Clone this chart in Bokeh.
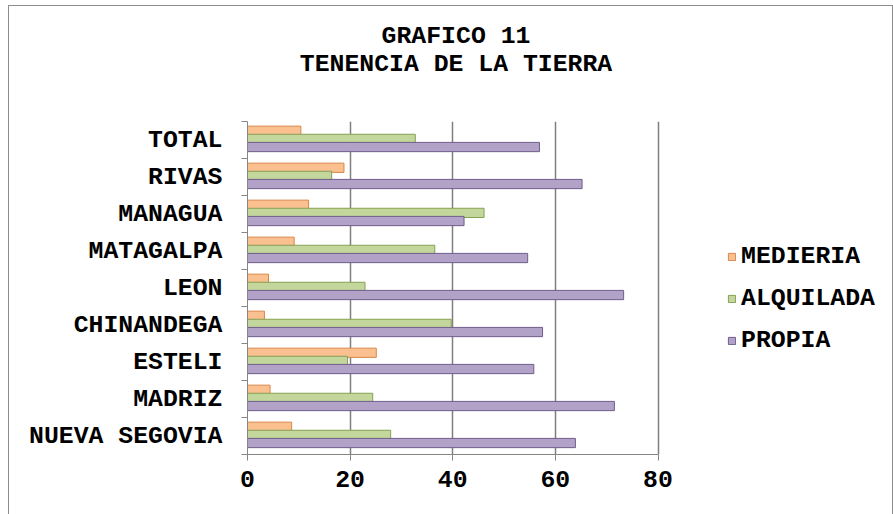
from bokeh.plotting import figure
from bokeh.models import (ColumnDataSource, Range1d, FixedTicker, Legend, LegendItem, Div)
from bokeh.layouts import column
from bokeh.transform import dodge
from bokeh.embed import file_html
from bokeh.resources import INLINE

categories = ["NUEVA SEGOVIA", "MADRIZ", "ESTELI", "CHINANDEGA", "LEON",
              "MATAGALPA", "MANAGUA", "RIVAS", "TOTAL"]
medieria = [8.6, 4.4, 25.1, 3.3, 4.1, 9.1, 11.9, 18.8, 10.4]
alquilada = [27.9, 24.4, 19.5, 39.7, 22.9, 36.5, 46.1, 16.4, 32.7]
propia = [63.9, 71.5, 55.8, 57.5, 73.3, 54.6, 42.2, 65.2, 56.9]
x_ticks = [0, 20, 40, 60, 80]
series_names = ["MEDIERIA", "ALQUILADA", "PROPIA"]
title_lines = ["GRAFICO 11", "TENENCIA DE LA TIERRA"]

FONT = "Liberation Mono"
FS = "24.8px"
W = 883
idx = list(range(len(categories)))
src = ColumnDataSource(dict(y=idx, med=medieria, alq=alquilada, pro=propia))

# frame extends right past 80 so the legend sits inside it; axis is bounded to 0..80
p = figure(width=W, height=408, output_backend="svg", toolbar_location=None,
           x_range=Range1d(0, 123.75), y_range=Range1d(-0.5, len(categories) - 0.5),
           min_border_left=238, min_border_right=10, min_border_top=15,
           min_border_bottom=60, margin=(0, 0, 0, 0))
p.outline_line_color = None
p.background_fill_color = "white"

specs = [("med", 0.25, "#FAC090", "#D9874A"),
         ("alq", 0.03, "#C3D69B", "#86A052"),
         ("pro", -0.19, "#B3A2C7", "#6F5C8C")]
renderers = []
for col, off, fc, lc in specs:
    r = p.hbar(y=dodge("y", off), right=col, left=0, height=0.25, source=src,
               fill_color=fc, line_color=lc, line_width=1)
    renderers.append(r)

# axes
p.xaxis.bounds = (x_ticks[0], x_ticks[-1])
p.xaxis.ticker = FixedTicker(ticks=x_ticks)
p.xaxis.axis_line_color = "#868686"
p.xaxis.major_tick_line_color = "#868686"
p.xaxis.major_tick_out = 6
p.xaxis.major_tick_in = 0
p.xaxis.minor_tick_line_color = None
p.xaxis.major_label_standoff = 10
p.xaxis.major_label_text_font = FONT
p.xaxis.major_label_text_font_style = "bold"
p.xaxis.major_label_text_font_size = FS
p.xaxis.major_label_text_color = "black"

p.yaxis.ticker = FixedTicker(ticks=idx, minor_ticks=[i - 0.5 for i in range(len(categories) + 1)])
p.yaxis.major_label_overrides = {i: c for i, c in enumerate(categories)}
p.yaxis.axis_line_color = "#868686"
p.yaxis.major_tick_line_color = None
p.yaxis.minor_tick_line_color = "#868686"
p.yaxis.minor_tick_out = 6
p.yaxis.minor_tick_in = 0
p.yaxis.major_label_standoff = 19
p.yaxis.major_label_text_font = FONT
p.yaxis.major_label_text_font_style = "bold"
p.yaxis.major_label_text_font_size = FS
p.yaxis.major_label_text_color = "black"

p.xgrid.ticker = FixedTicker(ticks=x_ticks)
p.xgrid.grid_line_color = "#7f7f7f"
p.xgrid.grid_line_width = 1.5
p.ygrid.grid_line_color = None

legend = Legend(items=[LegendItem(label=n, renderers=[r]) for n, r in zip(series_names, renderers)],
                location=(480, 100), orientation="vertical",
                label_text_font=FONT, label_text_font_style="bold",
                label_text_font_size=FS, label_text_color="black",
                glyph_width=9, glyph_height=9, label_standoff=5, spacing=14,
                padding=0, margin=0, border_line_color=None,
                background_fill_alpha=0)
p.add_layout(legend, "center")

title_html = (
    '<div style="width:%dpx; box-sizing:border-box; text-align:center; padding-left:11px; '
    'padding-top:16px; font-family:\'%s\'; font-weight:bold; font-size:%s; '
    'line-height:28px; color:black;">%s</div>' % (W, FONT, FS, "<br>".join(title_lines))
)
title_div = Div(text=title_html, width=W, height=100, margin=(0, 0, 0, 0))

layout = column(title_div, p, spacing=0,
                styles={"border": "1px solid #8c8c8c", "margin-left": "8px",
                        "margin-top": "5px", "background-color": "white"})

open("out.html", "w").write(file_html(layout, INLINE))
